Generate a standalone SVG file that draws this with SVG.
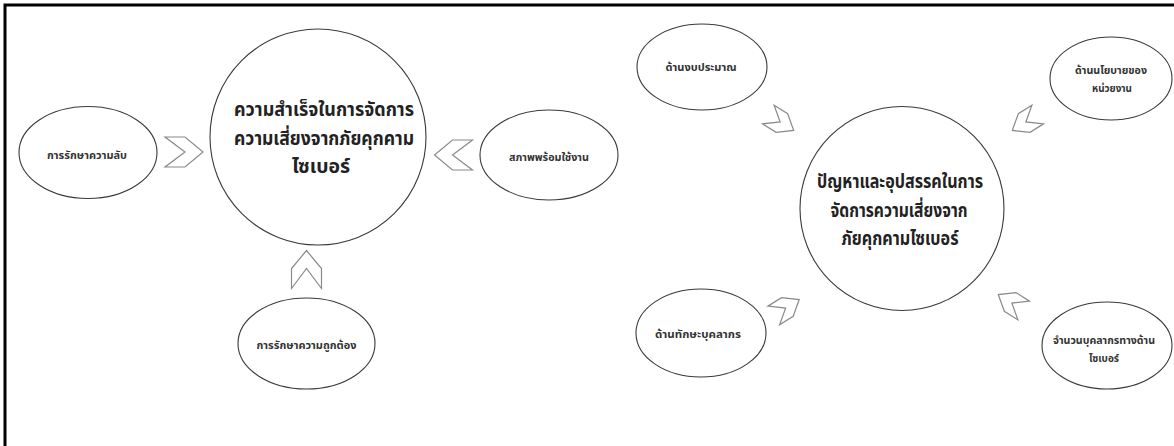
<svg xmlns="http://www.w3.org/2000/svg" xmlns:xlink="http://www.w3.org/1999/xlink" width="1174" height="446" viewBox="0 0 1174 446">
<style>
.node{fill:#fff;stroke:#3a3a3a;stroke-width:1.1}
.chev{fill:#fff;stroke:#8a8a8a;stroke-width:1.2;stroke-linejoin:miter}
.big{font-family:"Noto Sans Thai","Noto Sans","DejaVu Sans",sans-serif;font-size:19px;font-weight:bold;fill:#222;text-anchor:middle}
.small{font-family:"Noto Sans Thai","Noto Sans","DejaVu Sans",sans-serif;font-size:11px;font-weight:bold;fill:#333;text-anchor:middle}
</style>
<defs>
<polygon id="chevL" class="chev" points="-19,-15 1,-15 19,0 1,15 -19,15 1,0"/>
<polygon id="chevS" class="chev" points="-15,-11 1,-11 15,0 1,11 -15,11 -1,0"/>
</defs>
<rect width="1174" height="446" fill="#fff"/>
<path d="M5,446 V5 H1174" fill="none" stroke="#000" stroke-width="3"/>

<g id="connectors">
<use xlink:href="#chevL" transform="translate(184,152)"/>
<use xlink:href="#chevL" transform="translate(453.5,155) rotate(180)"/>
<use xlink:href="#chevL" transform="translate(306.5,269.5) rotate(-90)"/>
<use xlink:href="#chevS" transform="translate(781,122.5) rotate(32)"/>
<use xlink:href="#chevS" transform="translate(1025,122.5) rotate(148)"/>
<use xlink:href="#chevS" transform="translate(786.5,307.5) rotate(-32)"/>
<use xlink:href="#chevS" transform="translate(1011,302.5) rotate(212)"/>
</g>

<g id="success">
<circle class="node" cx="318" cy="137" r="108"/>
<text class="big" x="324" y="116" textLength="180" lengthAdjust="spacingAndGlyphs">ความสำเร็จในการจัดการ</text>
<text class="big" x="324" y="145" textLength="180" lengthAdjust="spacingAndGlyphs">ความเสี่ยงจากภัยคุกคาม</text>
<text class="big" x="321" y="173" textLength="58" lengthAdjust="spacingAndGlyphs">ไซเบอร์</text>
</g>
<g id="confidentiality">
<ellipse class="node" cx="88" cy="152.5" rx="69" ry="46"/>
<text class="small" x="87" y="159" textLength="80" lengthAdjust="spacingAndGlyphs">การรักษาความลับ</text>
</g>
<g id="availability">
<ellipse class="node" cx="549" cy="155" rx="69" ry="45"/>
<text class="small" x="549" y="161" textLength="80" lengthAdjust="spacingAndGlyphs">สภาพพร้อมใช้งาน</text>
</g>
<g id="integrity">
<ellipse class="node" cx="306.5" cy="343.5" rx="68.5" ry="45.5"/>
<text class="small" x="306.5" y="349" textLength="100" lengthAdjust="spacingAndGlyphs">การรักษาความถูกต้อง</text>
</g>

<g id="problems">
<circle class="node" cx="902" cy="208.5" r="102"/>
<text class="big" x="900" y="188" textLength="166" lengthAdjust="spacingAndGlyphs">ปัญหาและอุปสรรคในการ</text>
<text class="big" x="899" y="217" textLength="137" lengthAdjust="spacingAndGlyphs">จัดการความเสี่ยงจาก</text>
<text class="big" x="900" y="245" textLength="117" lengthAdjust="spacingAndGlyphs">ภัยคุกคามไซเบอร์</text>
</g>
<g id="budget">
<ellipse class="node" cx="702" cy="67" rx="65" ry="43"/>
<text class="small" x="701" y="71" textLength="71" lengthAdjust="spacingAndGlyphs">ด้านงบประมาณ</text>
</g>
<g id="policy">
<ellipse class="node" cx="1111" cy="78.5" rx="61" ry="41.5"/>
<text class="small" x="1111" y="74" textLength="72" lengthAdjust="spacingAndGlyphs">ด้านนโยบายของ</text>
<text class="small" x="1112" y="92" textLength="40" lengthAdjust="spacingAndGlyphs">หน่วยงาน</text>
</g>
<g id="skills">
<ellipse class="node" cx="701" cy="333" rx="65" ry="44"/>
<text class="small" x="698" y="338" textLength="86" lengthAdjust="spacingAndGlyphs">ด้านทักษะบุคลากร</text>
</g>
<g id="staff">
<ellipse class="node" cx="1107" cy="345.5" rx="65" ry="43.5"/>
<text class="small" x="1104" y="344" textLength="102" lengthAdjust="spacingAndGlyphs">จำนวนบุคลากรทางด้าน</text>
<text class="small" x="1104" y="362" textLength="30" lengthAdjust="spacingAndGlyphs">ไซเบอร์</text>
</g>
</svg>
